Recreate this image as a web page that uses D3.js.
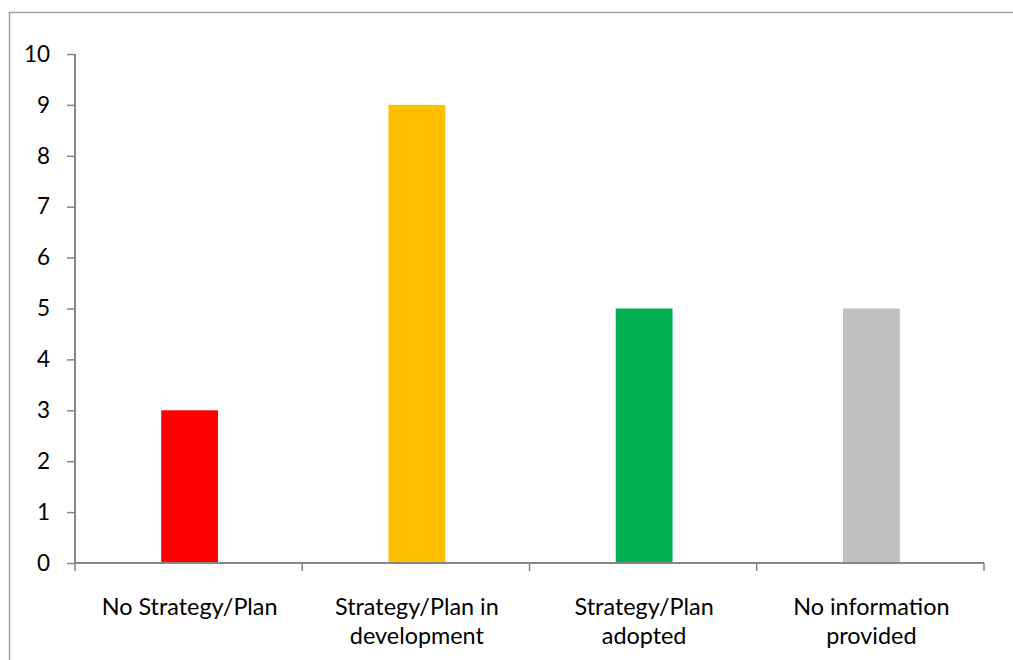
<!DOCTYPE html>
<html><head><meta charset="utf-8">
<script src="https://cdn.jsdelivr.net/npm/d3@7"></script>
<style>
html,body{margin:0;padding:0;background:#fff;}
svg{display:block;}
</style></head>
<body>
<svg id="chart" width="1013" height="660"></svg>
<script>
const categories = ["No Strategy/Plan", "Strategy/Plan in development", "Strategy/Plan adopted", "No information provided"];
const labelLines = [["No Strategy/Plan"], ["Strategy/Plan in", "development"], ["Strategy/Plan", "adopted"], ["No information", "provided"]];
const values = [3, 9, 5, 5];
const colors = ["#FF0000", "#FFC000", "#00B050", "#BFBFBF"];
const yTicks = [0,1,2,3,4,5,6,7,8,9,10];

const svg = d3.select("#chart");
const font = "Lato, 'Open Sans', sans-serif";

// outer border
svg.append("rect").attr("x", 9.5).attr("y", 12.5).attr("width", 1100).attr("height", 700)
  .attr("fill", "none").attr("stroke", "#A0A0A0").attr("stroke-width", 1.5);

const x0 = 75, x1 = 984, yTop = 54, yBot = 563;
const x = d3.scaleBand().domain(categories).range([x0, x1]).paddingInner(0).paddingOuter(0);
const y = d3.scaleLinear().domain([0, 10]).range([yBot, yTop]);

// bars
const bw = x.bandwidth() * 0.25;
svg.selectAll(".bar").data(values).enter().append("rect")
  .attr("x", (d,i) => x(categories[i]) + x.bandwidth()/2 - bw/2 + 1)
  .attr("y", d => y(d))
  .attr("width", bw)
  .attr("height", d => y(0) - y(d))
  .attr("fill", (d,i) => colors[i]);

const axisColor = "#868686";
// y axis
const yAxis = svg.append("g").attr("transform", `translate(${x0},0)`)
  .call(d3.axisLeft(y).tickValues(yTicks).tickSize(8).tickPadding(17).tickFormat(d3.format("d")));
yAxis.select(".domain").attr("stroke", axisColor).attr("stroke-width", 2).attr("d", `M0,${yTop}V${yBot}`);
yAxis.selectAll(".tick line").attr("stroke", axisColor).attr("stroke-width", 1.5);
yAxis.selectAll(".tick text").attr("font-family", font).attr("font-size", 22.5).attr("fill", "#000");

// x axis
const xAxisG = svg.append("g");
xAxisG.append("line").attr("x1", x0).attr("x2", x1).attr("y1", yBot).attr("y2", yBot)
  .attr("stroke", axisColor).attr("stroke-width", 2);
const bounds = categories.map(c => x(c)).concat([x1]);
xAxisG.selectAll(".xt").data(bounds).enter().append("line")
  .attr("x1", d => d).attr("x2", d => d).attr("y1", yBot).attr("y2", yBot + 8)
  .attr("stroke", axisColor).attr("stroke-width", 1.5);

// category labels
labelLines.forEach((lines, i) => {
  const cx = x(categories[i]) + x.bandwidth()/2 + 1;
  const t = svg.append("text").attr("text-anchor", "middle")
    .attr("font-family", font).attr("font-size", 23.4).attr("fill", "#000");
  lines.forEach((ln, j) => {
    t.append("tspan").attr("x", cx).attr("y", 615 + j*29).text(ln);
  });
});
</script>
</body></html>
